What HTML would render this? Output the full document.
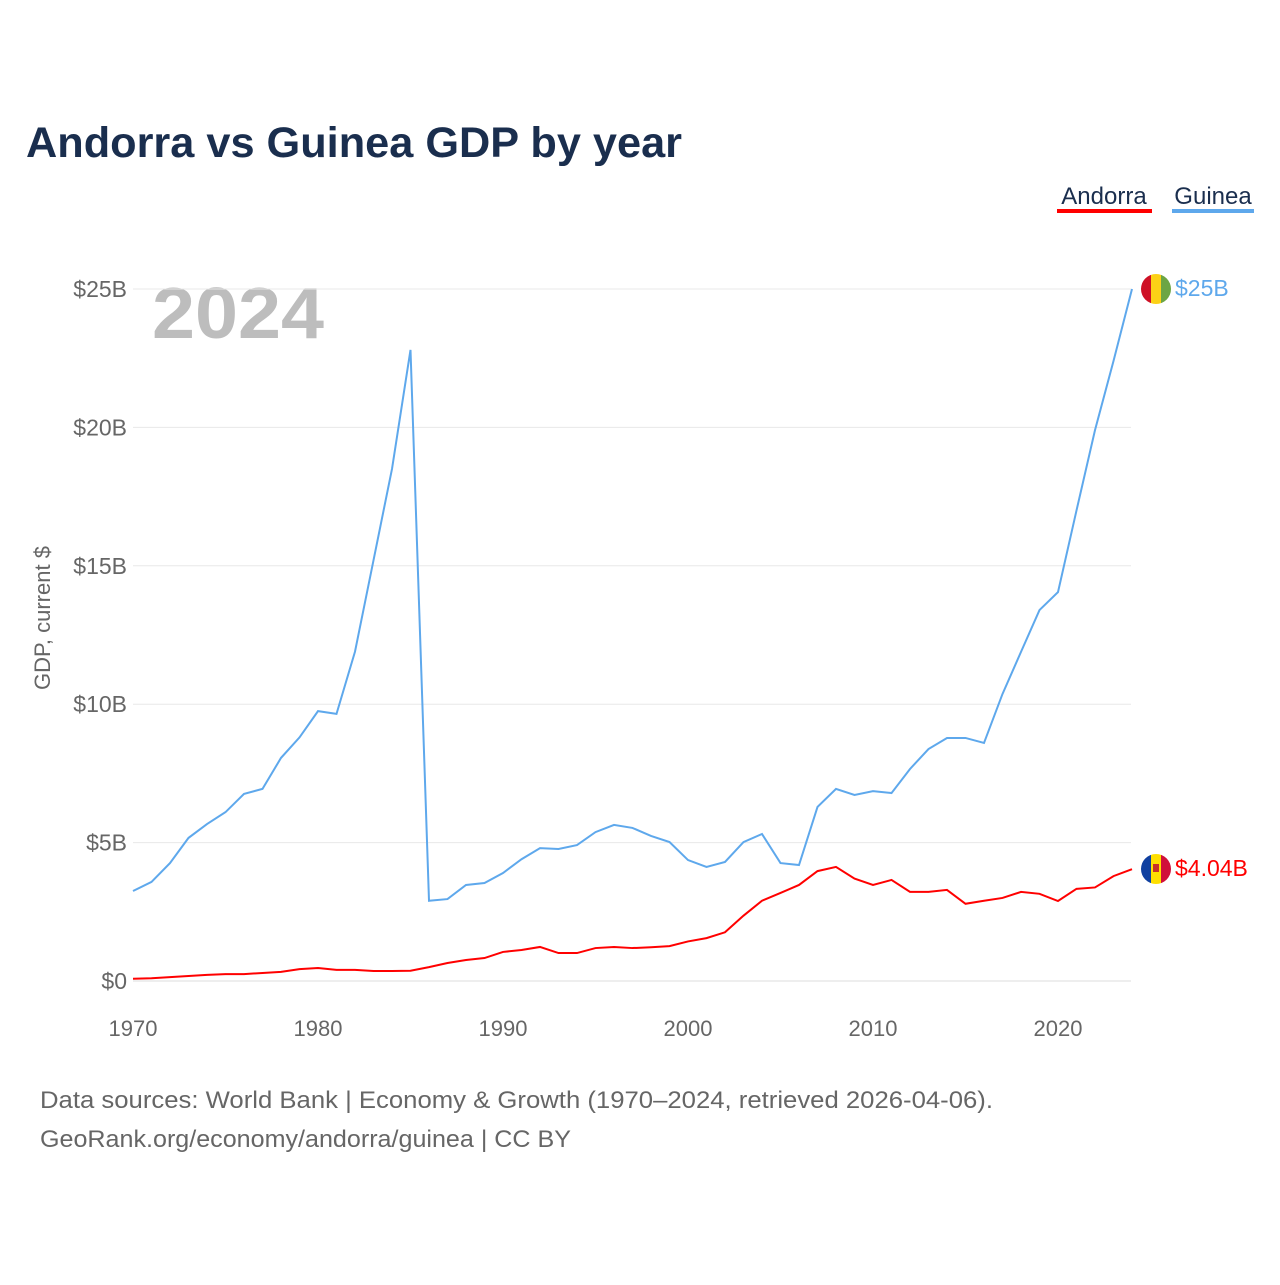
<!DOCTYPE html>
<html><head><meta charset="utf-8"><style>
body{margin:0;background:#fff;width:1280px;height:1280px;overflow:hidden;font-family:"Liberation Sans",sans-serif}
</style></head><body>
<svg id="chart" width="1280" height="1280" xmlns="http://www.w3.org/2000/svg" font-family="Liberation Sans, sans-serif">
<text x="26" y="157" font-size="43" font-weight="bold" fill="#1a2e4e" textLength="656" lengthAdjust="spacingAndGlyphs">Andorra vs Guinea GDP by year</text>
<g><text x="1104" y="204" font-size="24" fill="#1a2e4e" text-anchor="middle">Andorra</text><rect x="1057" y="209" width="95" height="4" fill="#ff0000"/></g>
<g><text x="1213" y="204" font-size="24" fill="#1a2e4e" text-anchor="middle">Guinea</text><rect x="1172" y="209" width="82" height="4" fill="#5ea8ec"/></g>
<text x="152" y="338" font-size="72" font-weight="bold" fill="#bdbdbd" textLength="172" lengthAdjust="spacingAndGlyphs">2024</text>
<text transform="translate(50,618) rotate(-90)" font-size="22" fill="#666" text-anchor="middle">GDP, current $</text>
<g id="grid"></g><g id="axes"></g><g id="lines"></g>
<g><clipPath id="cg"><circle cx="1156" cy="289" r="15"/></clipPath><g clip-path="url(#cg)"><rect x="1141" y="274" width="10" height="30" fill="#ce1126"/><rect x="1151" y="274" width="10" height="30" fill="#fcd116"/><rect x="1161" y="274" width="10" height="30" fill="#6ca544"/></g></g>
<g><clipPath id="ca"><circle cx="1156" cy="869" r="15"/></clipPath><g clip-path="url(#ca)"><rect x="1141" y="854" width="10" height="30" fill="#1040a0"/><rect x="1151" y="854" width="10" height="30" fill="#fedf00"/><rect x="1161" y="854" width="10" height="30" fill="#d0103a"/><rect x="1153" y="864" width="6" height="8" fill="#c7302a"/></g></g>
<text x="1175" y="296" font-size="23" fill="#5ea8ec">$25B</text>
<text x="1175" y="876" font-size="23" fill="#ff0000">$4.04B</text>
<text x="40" y="1108" font-size="24" fill="#666" textLength="953" lengthAdjust="spacingAndGlyphs">Data sources: World Bank | Economy &amp; Growth (1970–2024, retrieved 2026-04-06).</text>
<text x="40" y="1147" font-size="24" fill="#666" textLength="531" lengthAdjust="spacingAndGlyphs">GeoRank.org/economy/andorra/guinea | CC BY</text>
</svg>
<script>
const years=[];for(let y=1970;y<=2024;y++)years.push(y);
const guinea=[3.25,3.58,4.26,5.17,5.67,6.1,6.76,6.94,8.06,8.8,9.75,9.65,11.9,15.2,18.5,22.8,2.9,2.96,3.47,3.54,3.9,4.4,4.8,4.77,4.91,5.38,5.64,5.53,5.24,5.02,4.37,4.12,4.3,5.02,5.31,4.26,4.19,6.29,6.94,6.72,6.86,6.79,7.66,8.38,8.78,8.78,8.6,10.37,11.89,13.4,14.05,17.0,19.9,22.4,25.0];
const andorra=[0.08,0.1,0.14,0.18,0.22,0.25,0.25,0.29,0.33,0.43,0.47,0.4,0.4,0.36,0.36,0.37,0.5,0.65,0.76,0.83,1.05,1.12,1.23,1.01,1.01,1.19,1.23,1.19,1.22,1.26,1.43,1.55,1.76,2.36,2.9,3.18,3.47,3.97,4.12,3.7,3.47,3.65,3.22,3.22,3.29,2.79,2.9,3.0,3.22,3.15,2.89,3.33,3.38,3.79,4.04];
const yTicks=[0,5,10,15,20,25];
const yTickLabels=["$0","$5B","$10B","$15B","$20B","$25B"];
const xTicks=[1970,1980,1990,2000,2010,2020];
const NS="http://www.w3.org/2000/svg";
const x=v=>133+(v-1970)*18.5;
const y=v=>981-v*27.68;
const grid=document.getElementById('grid'),axes=document.getElementById('axes'),lines=document.getElementById('lines');
yTicks.forEach((t,i)=>{
 const l=document.createElementNS(NS,'line');
 
 
 l.setAttribute('x1',133);l.setAttribute('x2',1131);l.setAttribute('y1',y(t));l.setAttribute('y2',y(t));
 l.setAttribute('stroke',t===0?'#ddd':'#e8e8e8');l.setAttribute('stroke-width',1);grid.appendChild(l);
 const tx=document.createElementNS(NS,'text');
 
 
 tx.setAttribute('x',127);tx.setAttribute('y',y(t)+8);tx.setAttribute('text-anchor','end');tx.setAttribute('font-size','23');tx.setAttribute('fill','#666');
 tx.textContent=yTickLabels[i];axes.appendChild(tx);
});
xTicks.forEach(t=>{
 const tx=document.createElementNS(NS,'text');
 
 
 tx.setAttribute('x',x(t));tx.setAttribute('y',1036);tx.setAttribute('text-anchor','middle');tx.setAttribute('font-size','22');tx.setAttribute('fill','#666');
 tx.textContent=t;axes.appendChild(tx);
});
function line(vals,color,name){
 const p=document.createElementNS(NS,'polyline');
 
 
 p.setAttribute('points',vals.map((v,i)=>x(years[i])+','+y(v)).join(' '));
 p.setAttribute('fill','none');p.setAttribute('stroke',color);p.setAttribute('stroke-width',2);
 lines.appendChild(p);
}
line(guinea,'#5ea8ec','guinea-line');
line(andorra,'#ff0000','andorra-line');
</script>
</body></html>
